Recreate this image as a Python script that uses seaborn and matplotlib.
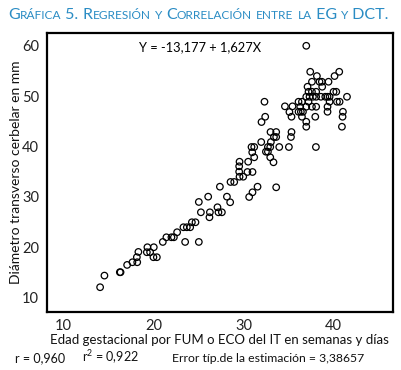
import matplotlib
matplotlib.use("Agg")
import matplotlib.pyplot as plt
import seaborn as sns
import pandas as pd

# Data
edad_gestacional = [
    14.08, 14.56, 16.27, 16.35, 17.08, 17.67, 18.2, 18.16, 18.33, 19.33,
    19.27, 19.63, 20.04, 20.0, 20.38, 21.04, 21.44, 22.0, 22.27, 22.63,
    23.33, 23.71, 24.08, 24.27, 24.67, 23.52, 25.04, 25.04, 25.27, 26.08,
    26.27, 26.22, 27.11, 27.22, 27.6, 27.38, 28.16, 28.52, 28.56, 28.97,
    29.56, 29.97, 29.52, 29.52, 29.56, 30.52, 30.44, 31.0, 31.56, 31.0,
    30.63, 33.63,
    32.33, 34.6, 35.44, 35.1, 35.33, 32.41, 32.0, 33.0, 33.63, 33.63,
    33.38, 35.33, 35.27, 31.97, 33.04, 32.97, 32.71, 32.71, 32.49, 33.97,
    35.04, 31.19, 30.89, 30.97, 31.19, 32.97, 33.33, 38.04,
    36.97, 37.41, 38.15, 40.63, 40.11, 38.44, 38.7, 39.44, 37.6, 37.11,
    38.74, 37.22, 37.6, 38.07, 40.0, 40.3,
    36.97, 37.33, 37.71, 38.07, 38.6, 39.08, 39.33, 39.56,
    41.49, 36.11, 36.49, 37.22, 39.56, 40.38, 40.67,
    36.3, 36.97, 37.6, 38.07, 39.33,
    36.11, 36.37, 36.6, 39.33, 41.04, 36.49, 37.97, 41.0,
    36.97, 36.97, 40.93,
]
diametro_transverso = [
    12.06, 14.37, 15.04, 15.04, 16.49, 17.02, 17.02, 18.02, 19.07, 20.0,
    19.01, 19.01, 20.0, 18.02, 18.02, 21.05, 21.98, 21.98, 21.98, 22.98,
    23.97, 23.97, 23.97, 24.96, 24.96, 21.05, 21.05, 28.99, 26.94, 30.04,
    26.94, 25.95, 27.94, 26.94, 26.94, 32.02, 30.04, 28.93, 32.96, 32.96,
    34.0, 34.0, 35.0, 36.07, 36.98, 36.98, 34.94, 34.94, 32.02, 30.91,
    29.98, 31.9,
    48.89, 47.98, 47.98, 46.85, 45.91, 45.91, 44.86, 42.88, 42.88, 41.89,
    41.89, 42.88, 41.89, 40.89, 40.89, 39.9, 39.9, 38.97, 38.97, 39.9,
    39.9, 39.9, 39.9, 38.85, 37.86, 37.86, 36.87, 39.9,
    60.0, 54.84, 53.99, 54.84, 53.99, 52.86, 52.86, 52.86, 52.86, 51.87,
    51.87, 50.87, 50.87, 50.87, 50.87, 50.87,
    49.88, 49.88, 49.88, 49.88, 49.88, 49.88, 49.88, 49.88,
    49.88, 48.89, 48.89, 48.89, 48.89, 48.89, 48.89,
    47.9, 47.9, 47.9, 47.9, 47.9,
    46.9, 46.9, 46.9, 46.9, 46.9, 45.91, 45.91, 45.91,
    44.92, 43.93, 43.93,
]
x_ticks = [10, 20, 30, 40]
y_ticks = [10, 20, 30, 40, 50, 60]

title_parts = [("G", "L"), ("RÁFICA", "S"), (" 5. ", "L"), ("R", "L"), ("EGRESIÓN", "S"),
               (" ", "L"), ("Y", "S"), (" ", "L"), ("C", "L"), ("ORRELACIÓN", "S"), (" ", "L"),
               ("ENTRE", "S"), (" ", "L"), ("LA", "S"), (" EG ", "L"), ("Y", "S"), (" DCT.", "L")]
equation = "Y = -13,177 + 1,627X"
xlabel = "Edad gestacional por FUM o ECO del IT en semanas y días"
ylabel = "Diámetro transverso cerbelar en mm"
stats = ["r = 0,960", "r$^2$ = 0,922", "Error típ.de la estimación = 3,38657"]

df = pd.DataFrame({"eg": edad_gestacional, "dct": diametro_transverso})

sns.set_style("white")
plt.rcParams["font.family"] = ["Lato", "DejaVu Sans"]
plt.rcParams["mathtext.fontset"] = "custom"
plt.rcParams["mathtext.rm"] = "Lato"

W, H = 401, 370
fig = plt.figure(figsize=(W / 100, H / 100), dpi=100)
ax = fig.add_axes([46.7 / W, 1 - 311.7 / H, (393 - 46.7) / W, (311.7 - 32.7) / H])

sns.scatterplot(data=df, x="eg", y="dct", ax=ax, marker="o", s=22,
                fc="none", ec="black", linewidth=0.9, legend=False)

ax.set_xlim(8.15, 46.6)
ax.set_ylim(7.2, 62.6)
ax.set_xticks(x_ticks)
ax.set_yticks(y_ticks)
for sp in ax.spines.values():
    sp.set_visible(True)
    sp.set_color("black")
    sp.set_linewidth(1.6)
ax.tick_params(axis="both", direction="out", length=4, width=1.4, color="black",
               labelsize=10.5, labelcolor="#222222", pad=1.5)
ax.set_xlabel("")
ax.set_ylabel("")

ax.text(25.2, 59.7, equation, ha="center", va="center", fontsize=9.3, color="black")

fig.text(219 / W, 1 - 340 / H, xlabel, ha="center", va="center", fontsize=9.5, color="#111111")
fig.text(16 / W, 1 - 172 / H, ylabel, ha="center", va="center", rotation=90,
         fontsize=10.0, color="#111111")
base_y = 1 - 362 / H
fig.text(15 / W, base_y, stats[0], ha="left", va="baseline", fontsize=9.0, color="#111111")
fig.text(82 / W, base_y, stats[1], ha="left", va="baseline", fontsize=9.0, color="#111111")
fig.text(172 / W, base_y, stats[2], ha="left", va="baseline", fontsize=8.8, color="#111111")

# small-caps title
renderer = fig.canvas.get_renderer()
cur = 8.0
title_color = "#2a8cc4"
sizes = {"L": 11.5, "S": 8.6}
for txt, kind in title_parts:
    t = fig.text(cur / W, 1 - 19 / H, txt, ha="left", va="baseline",
                 fontsize=sizes[kind], color=title_color)
    bb = t.get_window_extent(renderer)
    cur += bb.width

fig.savefig("out.png", dpi=100)
